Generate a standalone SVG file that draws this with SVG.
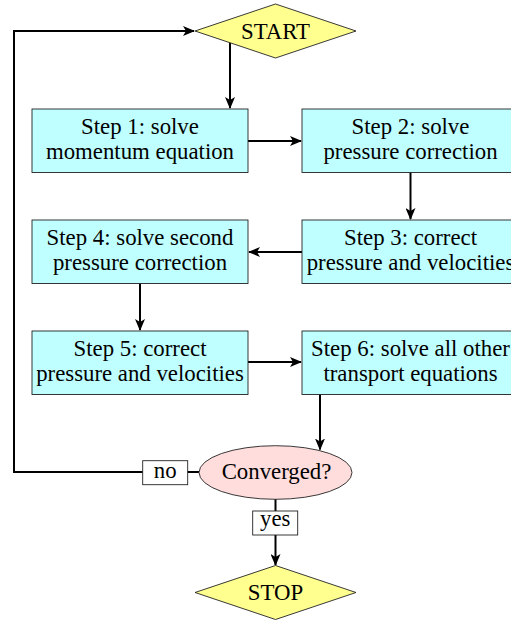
<svg xmlns="http://www.w3.org/2000/svg" width="511" height="620" viewBox="0 0 511 620">
<defs>
<style>
.box{fill:#C0FFFF;stroke:#222;stroke-width:0.9}
.dia{fill:#FFFF90;stroke:#222;stroke-width:0.9}
.ell{fill:#FFDDDD;stroke:#222;stroke-width:0.9}
.lbl{fill:#fff;stroke:#222;stroke-width:0.9}
.t{font-family:"Liberation Serif","DejaVu Serif",serif;font-size:22.8px;fill:#000;text-anchor:middle}
.c{fill:none;stroke:#000;stroke-width:2}
</style>
<marker id="ah" markerUnits="userSpaceOnUse" viewBox="0 0 12 10" refX="11" refY="5" markerWidth="12" markerHeight="10" orient="auto">
<path d="M0,0 L12,5 L0,10 L3,5 Z" fill="#000"/>
</marker>
</defs>
<g id="connectors">
<path class="c" d="M230,42.7 L230,108" marker-end="url(#ah)"/>
<path class="c" d="M248,141 L301,141" marker-end="url(#ah)"/>
<path class="c" d="M410.5,172.5 L410.5,219" marker-end="url(#ah)"/>
<path class="c" d="M302,252 L249,252" marker-end="url(#ah)"/>
<path class="c" d="M140,283.5 L140,330" marker-end="url(#ah)"/>
<path class="c" d="M248,362 L301,362" marker-end="url(#ah)"/>
<path class="c" d="M320,394 L320,449.5" marker-end="url(#ah)"/>
<path class="c" d="M199,472 L14,472 L14,31 L194,31" marker-end="url(#ah)"/>
<path class="c" d="M275.5,499 L275.5,565" marker-end="url(#ah)"/>
</g>
<g id="start">
<polygon class="dia" points="195,31 275.5,4 356,31 275.5,58"/>
<text class="t" x="275.5" y="39">START</text>
</g>
<g id="step1">
<rect class="box" x="32" y="109" width="216" height="63.5"/>
<text class="t" x="140" y="134">Step 1: solve</text>
<text class="t" x="140" y="159">momentum equation</text>
</g>
<g id="step2">
<rect class="box" x="302" y="109" width="217" height="63.5"/>
<text class="t" x="410.5" y="134">Step 2: solve</text>
<text class="t" x="410.5" y="159">pressure correction</text>
</g>
<g id="step3">
<rect class="box" x="302" y="220" width="217" height="63.5"/>
<text class="t" x="410.5" y="245">Step 3: correct</text>
<text class="t" x="410.5" y="270">pressure and velocities</text>
</g>
<g id="step4">
<rect class="box" x="32" y="220" width="216" height="63.5"/>
<text class="t" x="140" y="245">Step 4: solve second</text>
<text class="t" x="140" y="270">pressure correction</text>
</g>
<g id="step5">
<rect class="box" x="32" y="331" width="216" height="63.5"/>
<text class="t" x="140" y="356">Step 5: correct</text>
<text class="t" x="140" y="381">pressure and velocities</text>
</g>
<g id="step6">
<rect class="box" x="302" y="331" width="217" height="63.5"/>
<text class="t" x="410.5" y="356">Step 6: solve all other</text>
<text class="t" x="410.5" y="381">transport equations</text>
</g>
<g id="converged">
<ellipse class="ell" cx="275.5" cy="472.5" rx="76.5" ry="26.8"/>
<text class="t" x="276.5" y="478.5">Converged?</text>
</g>
<g id="label-no">
<rect class="lbl" x="142.7" y="460.7" width="45" height="24"/>
<text class="t" x="165.2" y="477.5">no</text>
</g>
<g id="label-yes">
<rect class="lbl" x="252.7" y="511" width="45" height="24"/>
<text class="t" x="275.2" y="526">yes</text>
</g>
<g id="stop">
<polygon class="dia" points="195,592.5 275.5,565.5 356,592.5 275.5,619.5"/>
<text class="t" x="275.5" y="599.5">STOP</text>
</g>
</svg>
